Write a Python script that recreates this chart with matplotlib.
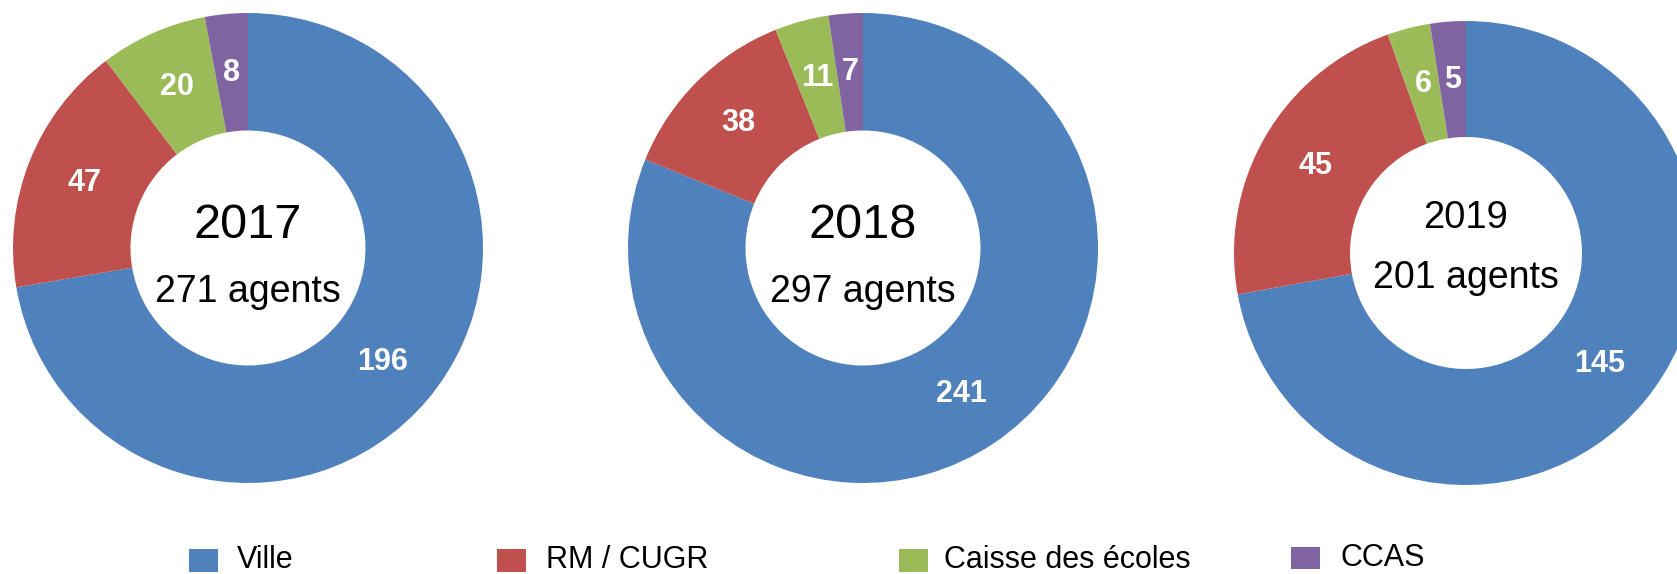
import matplotlib
matplotlib.use("Agg")
import matplotlib.pyplot as plt
from matplotlib.patches import Rectangle

plt.rcParams['font.family'] = ['Liberation Sans', 'DejaVu Sans']

categories = ["Ville", "RM / CUGR", "Caisse des écoles", "CCAS"]
years = ["2017", "2018", "2019"]
ville = [196, 241, 145]
rm_cugr = [47, 38, 45]
caisse = [20, 11, 6]
ccas = [8, 7, 5]
colors = ["#4F81BD", "#C0504D", "#9BBB59", "#8064A2"]

W, H = 1677, 574
fig = plt.figure(figsize=(W / 100, H / 100), dpi=100)

# layout (pixel centers / radii, from top-left)
centers = [(248, 248, 235), (863, 248, 235), (1466, 253, 232)]
year_fs = [35, 35, 27.5]
agent_fs = [27, 27, 27]
year_y = [0.043, 0.043, 0.108]
agent_y = [-0.23, -0.23, -0.151]

for i, yr in enumerate(years):
    vals = [ville[i], rm_cugr[i], caisse[i], ccas[i]]
    total = sum(vals)
    cx, cy, R = centers[i]
    ax = fig.add_axes([(cx - R) / W, (H - cy - R) / H, 2 * R / W, 2 * R / H])
    wedges, texts, autotexts = ax.pie(
        vals, colors=colors, startangle=90, counterclock=False,
        radius=1.0, wedgeprops=dict(width=0.5, linewidth=0),
        autopct=lambda p, t=total: f"{round(p * t / 100)}",
        pctdistance=0.75,
        textprops=dict(color="white", fontsize=22, fontweight="bold"))
    ax.set_xlim(-1, 1)
    ax.set_ylim(-1, 1)
    ax.set_aspect('equal')
    ax.axis('off')
    ax.text(0, year_y[i], yr, ha='center', va='baseline', fontsize=year_fs[i], color='black')
    ax.text(0, agent_y[i], f"{total} agents", ha='center', va='baseline', fontsize=agent_fs[i], color='black')

# legend
sq_x = [189, 497, 899, 1291]
txt_x = [237, 546, 944, 1341]
sq_y = [[549, 572], [549, 572], [549, 572], [547, 569]]
for k, name in enumerate(categories):
    y0, y1 = sq_y[k]
    fig.patches.append(Rectangle((sq_x[k] / W, 1 - y1 / H), 29 / W, (y1 - y0) / H,
                                 transform=fig.transFigure, facecolor=colors[k],
                                 edgecolor='none'))
    fig.text(txt_x[k] / W, 1 - ((y0 + y1) / 2) / H, name, ha='left', va='center',
             fontsize=22, color='black')

fig.savefig("out.png", dpi=100)
